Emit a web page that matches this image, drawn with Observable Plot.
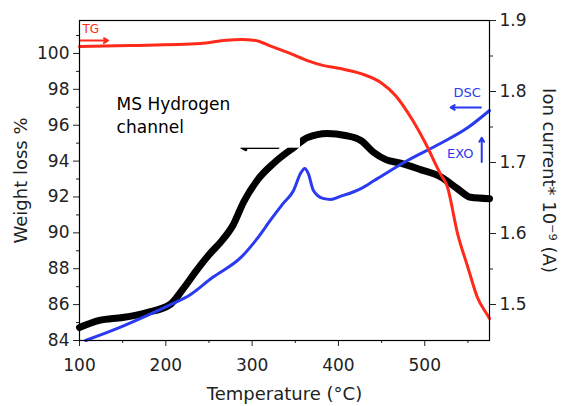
<!DOCTYPE html>
<html><head><meta charset="utf-8">
<script src="https://cdn.jsdelivr.net/npm/d3@7"></script>
<script src="https://cdn.jsdelivr.net/npm/@observablehq/plot@0.6"></script>
<style>body{margin:0;background:#fff} svg{font-family:"DejaVu Sans",sans-serif}</style>
</head><body><div id="chart"></div>
<script>
// TG curve (weight loss %, left axis)
const tgTemp   = [100, 159, 240, 270, 287, 304, 320, 344, 364, 383, 402, 426, 449, 466, 484, 501, 518, 526, 538, 550, 561, 573, 575];
const tgWeight = [100.39, 100.44, 100.55, 100.74, 100.78, 100.72, 100.44, 100.0, 99.6, 99.32, 99.16, 98.88, 98.38, 97.66, 96.43, 94.98, 93.3, 92.6, 89.96, 88.07, 86.40, 85.39, 85.23];
// MS hydrogen channel (ion current, right axis)
const msTemp = [100, 123, 150, 178, 205, 220, 235, 250, 265, 278, 290, 306, 325, 348, 364, 387, 408, 426, 441, 455, 472, 495, 518, 538, 553, 575];
const msIon  = [1.4676, 1.4775, 1.4817, 1.4887, 1.5000, 1.522, 1.547, 1.570, 1.590, 1.612, 1.644, 1.675, 1.699, 1.721, 1.735, 1.741, 1.738, 1.731, 1.714, 1.704, 1.699, 1.690, 1.680, 1.663, 1.651, 1.649];
// DSC curve (drawn in left-axis units)
const dscTemp = [107, 138, 178, 208, 227, 254, 287, 306, 321, 336, 348, 356, 361, 365, 371, 382, 391, 402, 426, 441, 480, 518, 550, 575];
const dscVal  = [84.0, 84.56, 85.39, 86.06, 86.51, 87.51, 88.63, 89.69, 90.69, 91.64, 92.36, 93.31, 93.59, 93.31, 92.36, 91.92, 91.86, 92.03, 92.47, 92.9, 94.03, 94.98, 95.87, 96.82];

const xTicks = [100, 200, 300, 400, 500];
const xMinor = [150, 250, 350, 450, 550];
const leftTicks = [84, 86, 88, 90, 92, 94, 96, 98, 100];
const leftMinor = [85, 87, 89, 91, 93, 95, 97, 99, 101];
const rightTicks = [1.5, 1.6, 1.7, 1.8, 1.9];
const rightMinor = [1.55, 1.65, 1.75, 1.85];

// annotations (data coordinates)
const tgLabel = [{t: "TG", x: 103.5, y: 101.34}];
const dscLabel = [{t: "DSC", x: 565, y: 97.82}];
const exoLabel = [{t: "EXO", x: 556.5, y: 94.42}];
const arrows = [
  {x1: 101, y1: 100.72, x2: 133, y2: 100.72, color: "#ff2a1a", w: 2},
  {x1: 565, y1: 96.99, x2: 530, y2: 96.99, color: "#2a3af0", w: 2},
  {x1: 566, y1: 93.95, x2: 566, y2: 95.3, color: "#2a3af0", w: 2},
  {x1: 330, y1: 94.76, x2: 288, y2: 94.76, color: "#000", w: 3}
];
const boxRect = [{x1: 124, x2: 356, y1: 94.72, y2: 98.25}];
const boxText = [{t: "MS Hydrogen\nchannel", x: 143, y: 96.6}];

const L0 = 84, pxPerL = 17.94;
// right axis conversion: ion current -> left units
const conv = r => L0 + (36 + (r - 1.5) * 710) / pxPerL;
const inv = l => 1.5 + ((l - L0) * pxPerL - 36) / 710;

const tg = tgTemp.map((t, i) => ({t, v: tgWeight[i]}));
const ms = msTemp.map((t, i) => ({t, v: conv(msIon[i])}));
const dsc = dscTemp.map((t, i) => ({t, v: dscVal[i]}));

const font = "DejaVu Sans, sans-serif";
const chart = Plot.plot({
  width: 561, height: 406,
  marginLeft: 79, marginRight: 72, marginTop: 20, marginBottom: 66,
  style: {fontSize: "16px", fontFamily: font, background: "#fff", color: "#222"},
  x: {domain: [100, 575]},
  y: {domain: [L0, conv(1.9)]},
  marks: [
    Plot.axisX(xTicks, {tickSize: 6, tickPadding: 12, fontSize: 17, label: null, tickFormat: d => d}),
    Plot.axisX(xMinor, {tickSize: 3, tickFormat: () => "", label: null}),
    Plot.axisY(leftTicks, {tickSize: 6, tickPadding: 4, fontSize: 17, label: null, tickFormat: d => d}),
    Plot.axisY(leftMinor.filter(v => v < conv(1.9)), {tickSize: 3, tickFormat: () => "", label: null}),
    Plot.axisY(rightTicks.map(conv), {anchor: "right", tickSize: 6, tickPadding: 4, fontSize: 17, label: null, tickFormat: v => inv(v).toFixed(1)}),
    Plot.axisY(rightMinor.map(conv), {anchor: "right", tickSize: 3, tickFormat: () => "", label: null}),
    Plot.line(ms, {x: "t", y: "v", stroke: "#000", strokeWidth: 7, curve: "monotone-x"}),
    Plot.line(dsc, {x: "t", y: "v", stroke: "#2a3af0", strokeWidth: 3, curve: "monotone-x"}),
    Plot.line(tg, {x: "t", y: "v", stroke: "#ff2a1a", strokeWidth: 3, curve: "monotone-x"}),
    Plot.arrow(arrows, {x1: "x1", y1: "y1", x2: "x2", y2: "y2", stroke: "color", strokeWidth: "w", headLength: 7}),
    Plot.rect(boxRect, {x1: "x1", x2: "x2", y1: "y1", y2: "y2", fill: "#fff"}),
    Plot.text(boxText, {x: "x", y: "y", text: "t", textAnchor: "start", fontSize: 17, lineHeight: 1.35, fill: "#000"}),
    Plot.text(tgLabel, {x: "x", y: "y", text: "t", fill: "#ff2a1a", fontSize: 12, textAnchor: "start"}),
    Plot.text(dscLabel, {x: "x", y: "y", text: "t", fill: "#2a3af0", fontSize: 13, textAnchor: "end"}),
    Plot.text(exoLabel, {x: "x", y: "y", text: "t", fill: "#2a3af0", fontSize: 13, textAnchor: "end"}),
    Plot.frame({stroke: "#000", strokeWidth: 1.2}),
    Plot.text(["Weight loss %"], {frameAnchor: "left", textAnchor: "middle", rotate: -90, dx: -58, fontSize: 18, fill: "#222"}),
    Plot.text(["Ion current* 10⁻⁹ (A)"], {frameAnchor: "right", textAnchor: "middle", rotate: 90, dx: 59, fontSize: 18, fill: "#222"}),
    Plot.text(["Temperature (°C)"], {frameAnchor: "bottom", textAnchor: "middle", dy: 59, fontSize: 18, fill: "#222"})
  ]
});
document.getElementById("chart").appendChild(chart);
</script>
</body></html>
